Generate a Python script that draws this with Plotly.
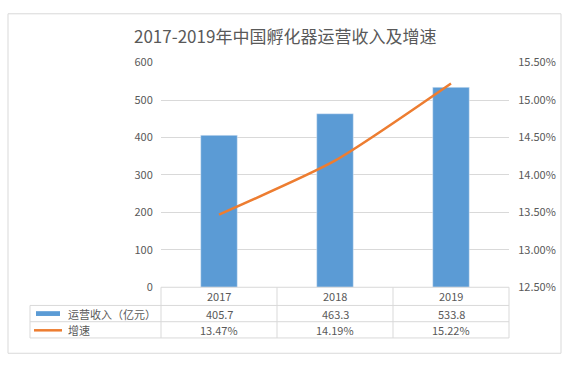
import plotly.graph_objects as go

years = ["2017", "2018", "2019"]
revenue = [405.7, 463.3, 533.8]
growth = [0.1347, 0.1419, 0.1522]
revenue_labels = ["405.7", "463.3", "533.8"]
growth_labels = ["13.47%", "14.19%", "15.22%"]
series_names = ["运营收入（亿元）", "增速"]
title = "2017-2019年中国孵化器运营收入及增速"

W, H = 568, 366
BLUE = "#5b9bd5"
ORANGE = "#ed7d31"
GRID = "#d9d9d9"
TXT = "#595959"
FONT = "Noto Sans CJK SC, Open Sans, sans-serif"

px0, px1 = 161, 509
py_top, py_bot = 56, 291
def fx(p):
    return p / W
def fy(p):
    return 1 - p / H

xpos = [0, 1, 2]

fig = go.Figure()
fig.add_trace(go.Bar(x=xpos, y=revenue, width=0.315, marker_color=BLUE,
                     name=series_names[0], showlegend=False))
fig.add_trace(go.Scatter(x=xpos, y=growth, yaxis="y2", mode="lines",
                         line=dict(color=ORANGE, width=2.5, shape="spline", smoothing=0.6),
                         name=series_names[1], showlegend=False))

shapes = []
line_style = dict(color=GRID, width=1)
# outer border
shapes.append(dict(type="rect", xref="paper", yref="paper", x0=fx(8), x1=fx(561), y0=fy(360), y1=fy(5),
                   line=dict(color=GRID, width=1)))
# table lines
row_lines = [310, 327, 344]
for ry in row_lines:
    shapes.append(dict(type="line", xref="paper", yref="paper", x0=fx(30), x1=fx(px1), y0=fy(ry), y1=fy(ry), line=line_style))
shapes.append(dict(type="line", xref="paper", yref="paper", x0=fx(px0), x1=fx(px1), y0=fy(py_bot), y1=fy(py_bot), line=line_style))
for cx in [161, 277, 393, 509]:
    shapes.append(dict(type="line", xref="paper", yref="paper", x0=fx(cx), x1=fx(cx), y0=fy(py_bot), y1=fy(344), line=line_style))
shapes.append(dict(type="line", xref="paper", yref="paper", x0=fx(30), x1=fx(30), y0=fy(310), y1=fy(344), line=line_style))
# legend keys
shapes.append(dict(type="rect", xref="paper", yref="paper", x0=fx(36), x1=fx(60), y0=fy(321), y1=fy(316),
                   fillcolor=BLUE, line=dict(width=0)))
shapes.append(dict(type="line", xref="paper", yref="paper", x0=fx(34), x1=fx(62), y0=fy(336), y1=fy(336),
                   line=dict(color=ORANGE, width=2.5)))

annotations = []
annotations.append(dict(text=title, xref="paper", yref="paper", x=fx(285), y=fy(28), showarrow=False,
                        font=dict(size=17, color=TXT, family=FONT), xanchor="center", yanchor="middle"))
row_y = [300.5, 318.5, 335.5]
for i in range(3):
    cx = (px0 + (i + 0.5) * (px1 - px0) / 3)
    for r, txt in enumerate([years[i], revenue_labels[i], growth_labels[i]]):
        annotations.append(dict(text=txt, xref="paper", yref="paper", x=fx(cx), y=fy(row_y[r]), showarrow=False,
                                font=dict(size=11, color=TXT, family=FONT), xanchor="center", yanchor="middle"))
annotations.append(dict(text=series_names[0], xref="paper", yref="paper", x=fx(66), y=fy(row_y[1]), showarrow=False,
                        font=dict(size=11, color=TXT, family=FONT), xanchor="left", yanchor="middle"))
annotations.append(dict(text=series_names[1], xref="paper", yref="paper", x=fx(66), y=fy(row_y[2]), showarrow=False,
                        font=dict(size=11, color=TXT, family=FONT), xanchor="left", yanchor="middle"))

fig.update_layout(
    width=W, height=H,
    margin=dict(l=0, r=0, t=0, b=0),
    paper_bgcolor="white", plot_bgcolor="white",
    font=dict(family=FONT, size=11, color=TXT),
    xaxis=dict(domain=[fx(px0), fx(px1)], range=[-0.5, 2.5], showticklabels=False,
               showgrid=False, zeroline=False, showline=False, ticks=""),
    yaxis=dict(domain=[fy(py_bot), fy(py_top)], range=[0, 600], dtick=100, showgrid=True,
               gridcolor=GRID, gridwidth=1, zeroline=False, showline=False,
               ticks="outside", ticklen=5, tickcolor="rgba(0,0,0,0)",
               tickfont=dict(size=11, color=TXT, family=FONT)),
    yaxis2=dict(overlaying="y", side="right", range=[0.125, 0.155], dtick=0.005, tickformat=".2%",
                showgrid=False, zeroline=False, showline=False, anchor="x",
                ticks="outside", ticklen=6, tickcolor="rgba(0,0,0,0)",
                tickfont=dict(size=11, color=TXT, family=FONT)),
    shapes=shapes, annotations=annotations, showlegend=False,
)

fig.write_html("out.html", config={"displayModeBar": False},
               post_script="document.body.style.margin='0px';")
